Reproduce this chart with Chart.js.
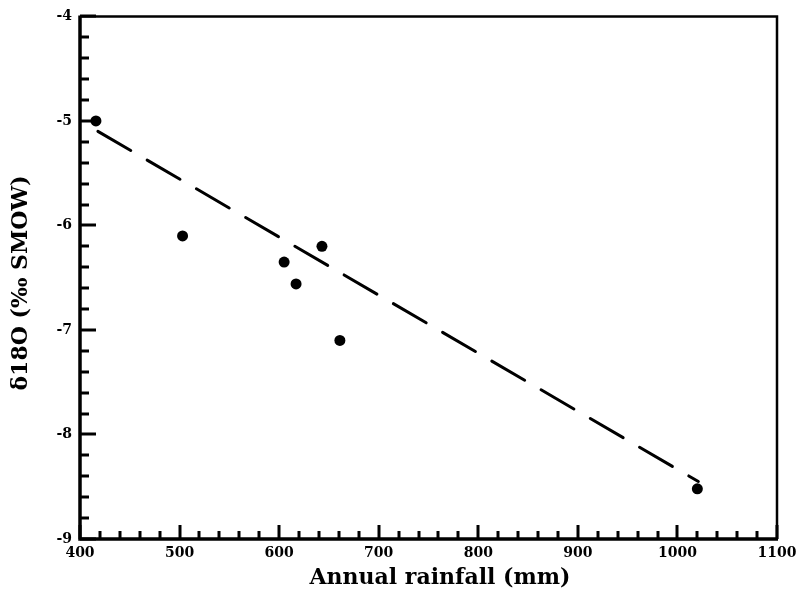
<!DOCTYPE html>
<html>
<head>
<meta charset="utf-8">
<script src="https://cdn.jsdelivr.net/npm/chart.js@4/dist/chart.umd.min.js"></script>
<style>
  html, body { margin: 0; padding: 0; background: #fff; }
  #wrap { width: 796px; height: 593px; position: relative; }
</style>
</head>
<body>
<div id="wrap"><canvas id="c"></canvas></div>
<script>
// Annual rainfall (mm) against δ18O (‰ SMOW)
const rainfall = [416, 503, 605, 617, 643, 661, 1020];
const delta18O = [-5.00, -6.10, -6.35, -6.56, -6.20, -7.10, -8.52];

// dashed regression line, end points
const fitRain = [418, 1021];
const fitDelta = [-5.10, -8.45];

// axis ticks
const xTicks = [400, 500, 600, 700, 800, 900, 1000, 1100];
const yTicks = [-9, -8, -7, -6, -5, -4];
const xMinorStep = 20;
const yMinorStep = 0.2;

const xTitle = 'Annual rainfall (mm)';
const yTitle = 'δ18O (‰ SMOW)';

const FONT = '"DejaVu Serif", "Liberation Serif", serif';

const pts = rainfall.map((x, i) => ({ x, y: delta18O[i] }));
const fit = fitRain.map((x, i) => ({ x, y: fitDelta[i] }));

// frame, inward ticks and axis titles
const framePlugin = {
  id: 'frame',
  afterDraw(chart) {
    const { ctx, chartArea: a, scales: { x, y } } = chart;
    ctx.save();
    ctx.strokeStyle = '#000';
    ctx.lineCap = 'butt';

    // minor + major ticks along the bottom axis
    ctx.lineWidth = 3;
    const x0 = xTicks[0], x1 = xTicks[xTicks.length - 1];
    for (let v = x0; v <= x1 + 1e-9; v += xMinorStep) {
      const major = xTicks.some(t => Math.abs(t - v) < 1e-6);
      const px = Math.round(x.getPixelForValue(v));
      const len = major ? 14 : 8;
      ctx.beginPath();
      ctx.moveTo(px, a.bottom);
      ctx.lineTo(px, a.bottom - len);
      ctx.stroke();
    }
    // minor + major ticks along the left axis
    const y0 = yTicks[0], y1 = yTicks[yTicks.length - 1];
    const n = Math.round((y1 - y0) / yMinorStep);
    for (let k = 0; k <= n; k++) {
      const v = y0 + k * yMinorStep;
      const major = yTicks.some(t => Math.abs(t - v) < 1e-6);
      const py = Math.round(y.getPixelForValue(v));
      const len = major ? 16 : 9;
      ctx.beginPath();
      ctx.moveTo(a.left, py);
      ctx.lineTo(a.left + len, py);
      ctx.stroke();
    }

    // frame: heavy left/bottom axes, lighter top/right
    ctx.lineWidth = 2.5;
    ctx.beginPath();
    ctx.moveTo(a.left, a.top);
    ctx.lineTo(a.right, a.top);
    ctx.lineTo(a.right, a.bottom);
    ctx.stroke();
    ctx.lineWidth = 3.5;
    ctx.beginPath();
    ctx.moveTo(a.left, a.top - 1);
    ctx.lineTo(a.left, a.bottom);
    ctx.lineTo(a.right + 1, a.bottom);
    ctx.stroke();

    // axis titles
    ctx.fillStyle = '#000';
    ctx.font = 'bold 22px ' + FONT;
    ctx.textAlign = 'center';
    ctx.textBaseline = 'middle';
    ctx.fillText(xTitle, 440, 578);
    ctx.translate(21, 283);
    ctx.rotate(-Math.PI / 2);
    ctx.fillText(yTitle, 0, 0);
    ctx.restore();
  }
};

new Chart(document.getElementById('c'), {
  type: 'scatter',
  data: {
    datasets: [
      {
        data: pts,
        showLine: false,
        pointRadius: 5.5,
        pointHoverRadius: 5.5,
        pointBackgroundColor: '#000',
        pointBorderColor: '#000',
        pointBorderWidth: 0
      },
      {
        data: fit,
        showLine: true,
        pointRadius: 0,
        borderColor: '#000',
        borderWidth: 3,
        borderDash: [38, 19],
        borderCapStyle: 'round',
        fill: false
      }
    ]
  },
  options: {
    responsive: true,
    maintainAspectRatio: false,
    animation: false,
    events: [],
    layout: { padding: { top: 15, right: 19, left: 0, bottom: 0 } },
    plugins: { legend: { display: false }, tooltip: { enabled: false } },
    scales: {
      x: {
        type: 'linear',
        min: xTicks[0],
        max: xTicks[xTicks.length - 1],
        afterBuildTicks: s => { s.ticks = xTicks.map(v => ({ value: v })); },
        afterFit: s => { s.height = 54; s.paddingRight = 0; s.paddingLeft = 0; },
        grid: { display: false, drawTicks: false },
        border: { display: false },
        ticks: {
          color: '#000',
          padding: 6,
          maxRotation: 0,
          callback: v => String(v),
          font: { family: FONT, size: 14, weight: 'bold' }
        }
      },
      y: {
        type: 'linear',
        min: yTicks[0],
        max: yTicks[yTicks.length - 1],
        afterBuildTicks: s => { s.ticks = yTicks.map(v => ({ value: v })); },
        afterFit: s => { s.width = 80; },
        grid: { display: false, drawTicks: false },
        border: { display: false },
        ticks: {
          color: '#000',
          padding: 8,
          callback: v => String(v),
          font: { family: FONT, size: 14, weight: 'bold' }
        }
      }
    }
  },
  plugins: [framePlugin]
});
</script>
</body>
</html>
